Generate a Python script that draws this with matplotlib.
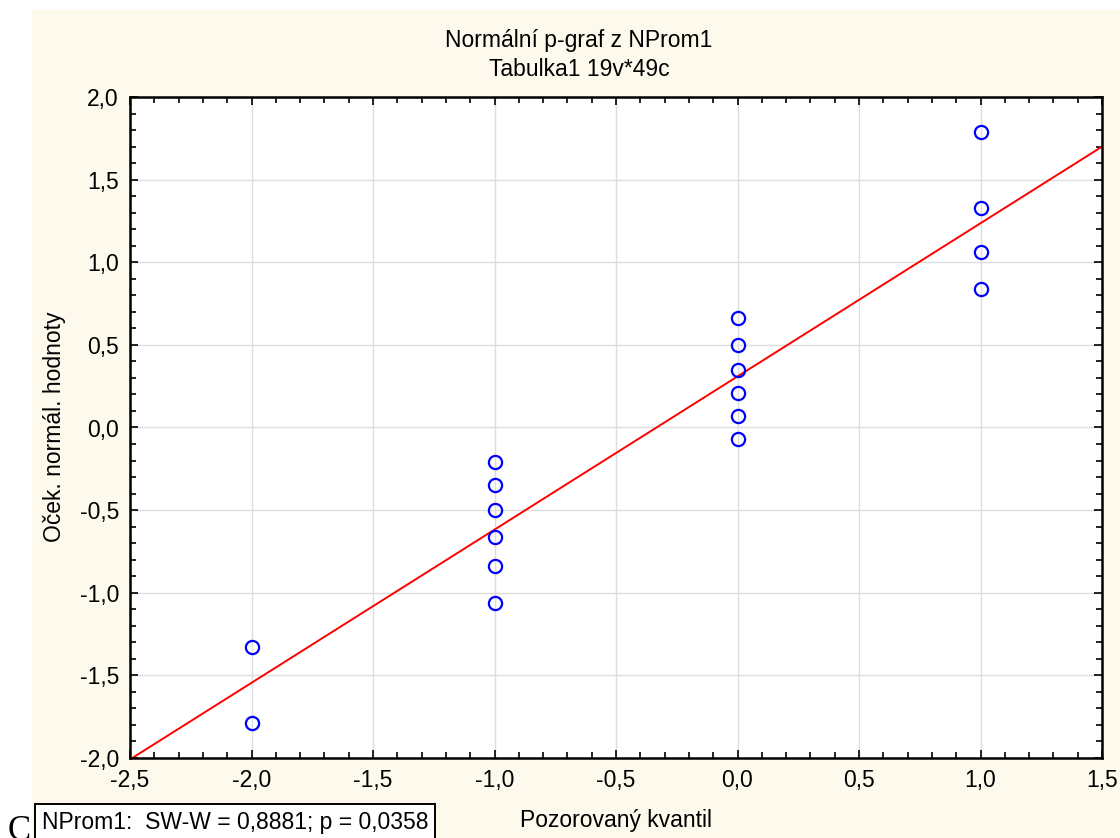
import matplotlib

matplotlib.use("Agg")
import matplotlib.pyplot as plt
from matplotlib.patches import Rectangle
from matplotlib.ticker import FuncFormatter, MultipleLocator

plt.rcParams["font.family"] = ["Liberation Sans", "DejaVu Sans"]

# observed quantile (x) vs expected normal value (y)
obs_x = [-2, -2,
         -1, -1, -1, -1, -1, -1,
         0, 0, 0, 0, 0, 0,
         1, 1, 1, 1]
exp_y = [-1.79, -1.33,
         -1.06, -0.84, -0.66, -0.50, -0.35, -0.21,
         -0.07, 0.07, 0.21, 0.35, 0.50, 0.66,
         0.84, 1.06, 1.33, 1.79]
fit_intercept = 0.309
fit_slope = 0.927
line_x = [-2.5, 1.5]

title_lines = ["Normální p-graf z NProm1", "Tabulka1 19v*49c"]
stat_text = "NProm1:  SW-W = 0,8881; p = 0,0358"
FS = 16.5

W, H = 1120, 838
fig = plt.figure(figsize=(W / 100, H / 100), dpi=100, facecolor="white")
fig.patches.append(Rectangle((32 / W, 0), 1 - 32 / W, 1 - 10 / H,
                             transform=fig.transFigure, facecolor="#fef9ed",
                             edgecolor="none", zorder=-10))

ax = fig.add_axes([130 / W, 1 - 758 / H, (1102 - 130) / W, (758 - 97) / H])
ax.set_zorder(5)
ax.set_facecolor("white")

ax.plot(line_x, [fit_intercept + fit_slope * x for x in line_x],
        color="#ff0000", lw=1.4, zorder=2)
ax.plot(obs_x, exp_y, ls="none", marker="o", ms=9.5, mfc="none",
        mec="#0000ff", mew=1.6, zorder=3)

ax.set_xlim(-2.5, 1.5)
ax.set_ylim(-2.0, 2.0)
ax.xaxis.set_major_locator(MultipleLocator(0.5))
ax.yaxis.set_major_locator(MultipleLocator(0.5))
ax.xaxis.set_minor_locator(MultipleLocator(0.1))
ax.yaxis.set_minor_locator(MultipleLocator(0.1))
fmt = FuncFormatter(lambda v, p: f"{v:.1f}".replace(".", ",").replace("-0,0", "0,0"))
ax.xaxis.set_major_formatter(fmt)
ax.yaxis.set_major_formatter(fmt)
ax.tick_params(which="both", direction="in", top=True, right=True,
               labelsize=FS, colors="black", pad=8)
ax.tick_params(which="major", length=6, width=1.2)
ax.tick_params(which="minor", length=4, width=1.2)
ax.grid(True, which="major", color="#dddddd", lw=1.0)
ax.set_axisbelow(True)
for s in ax.spines.values():
    s.set_linewidth(1.8)
    s.set_color("black")

fig.text(579 / W, 1 - 40 / H, title_lines[0], ha="center", va="center", fontsize=FS)
fig.text(579 / W, 1 - 70 / H, title_lines[1], ha="center", va="center", fontsize=FS)
fig.text(55 / W, 1 - 427 / H, "Oček. normál. hodnoty",
         ha="center", va="center", rotation=90, fontsize=FS)
fig.text(616 / W, 1 - 820 / H, "Pozorovaný kvantil", ha="center", va="center", fontsize=FS)
fig.text(42 / W, 1 - 822 / H, stat_text, ha="left", va="center", fontsize=FS,
         bbox=dict(boxstyle="square,pad=0.3", facecolor="white", edgecolor="black", lw=1.4))
fig.text(8 / W, 1 - 848 / H, "C", ha="left", va="bottom", fontsize=25,
         family="Liberation Serif")

fig.savefig("out.png", dpi=100, facecolor=fig.get_facecolor())
